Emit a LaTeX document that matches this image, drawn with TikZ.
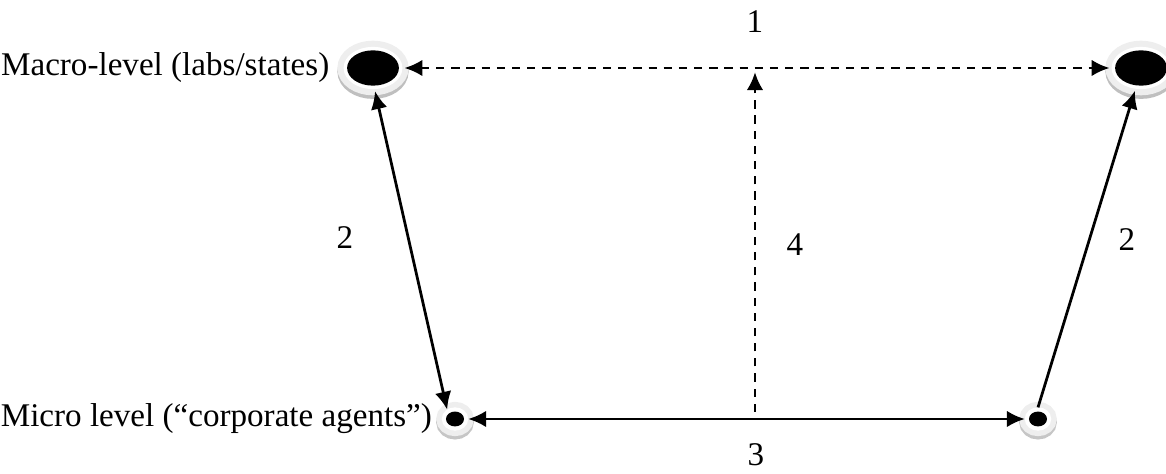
\documentclass[tikz,border=0pt]{standalone}
\usepackage{fontspec}
\setmainfont{Liberation Serif}
\usetikzlibrary{shapes.geometric, arrows.meta, positioning, calc}

\begin{document}
\begin{tikzpicture}[
    x=0.01274cm, y=-0.01274cm,
    font=\fontsize{12}{14}\selectfont,
    macro/.style={ellipse, fill=black, inner sep=0pt, outer sep=2pt,
                  minimum width=0.66cm, minimum height=0.45cm,
                  preaction={draw=gray!50, line width=7pt,
                             transform canvas={yshift=-1.3pt}},
                  preaction={draw=gray!13, line width=7pt},
                  preaction={draw=white, line width=2.5pt}},
    micro/.style={ellipse, fill=black, inner sep=0pt, outer sep=1.5pt,
                  minimum width=0.23cm, minimum height=0.19cm,
                  preaction={draw=gray!45, line width=7pt,
                             transform canvas={yshift=-1.2pt}},
                  preaction={draw=gray!13, line width=7pt},
                  preaction={draw=white, line width=3pt}},
    link/.style={line width=1pt, draw=black},
    dlink/.style={link, dash pattern=on 3pt off 2.5pt},
    tip/.tip={Latex[length=6.5pt, width=6pt]},
    num/.style={inner sep=1pt}
]
\useasboundingbox (0,0) rectangle (1166,474);

%% --- LEVEL NODES ---
\node[macro] (ml)  at (373,68)  {};
\node[macro] (mr)  at (1141,68) {};
\node[micro] (mil) at (455,419) {};
\node[micro] (mir) at (1038,419) {};

%% --- LEVEL LABELS ---
\node[left=0.15cm of ml, inner sep=0pt]  (macrotxt) {Macro-level (labs/states)};
\node[left=0.12cm of mil, inner sep=0pt] (microtxt) {Micro level (``corporate agents'')};

%% --- ARROWS ---
\draw[dlink, tip-tip] (ml) -- (mr);
\coordinate (base) at (755,412);
\draw[dlink, -tip, shorten >=1.5pt] (base) -- (base |- ml);
\draw[link, tip-tip] (ml.-85) -- (mil.130);
\draw[link, tip-tip] (mil) -- (mir);
\draw[link, -tip] (mir.north) -- (mr.-105);

%% --- NUMBERS ---
\node[num] (n1)  at (755,22)  {1};
\node[num] (n2a) at (345,238) {2};
\node[num] (n4)  at (795,245) {4};
\node[num] (n2b) at (1127,240) {2};
\node[num] (n3)  at (756,455) {3};

\end{tikzpicture}
\end{document}
